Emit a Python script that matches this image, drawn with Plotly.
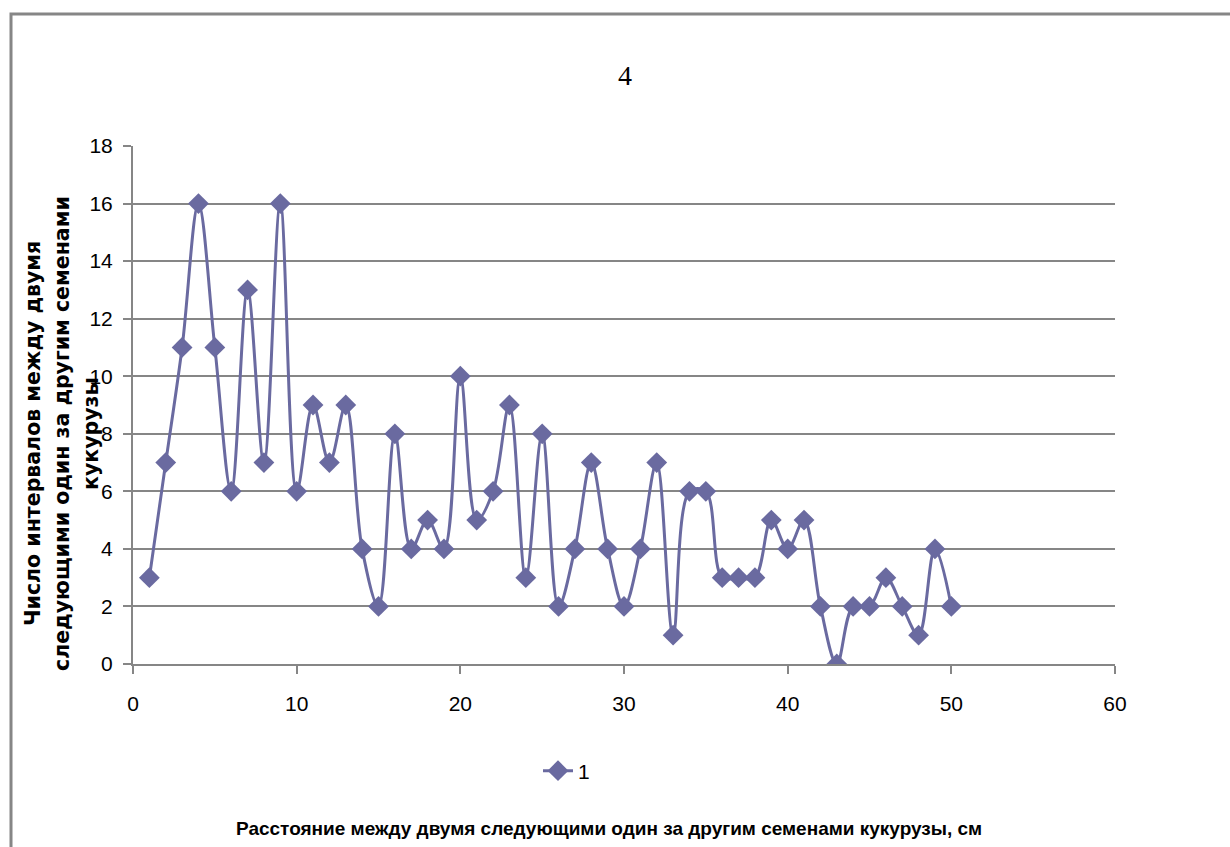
import plotly.graph_objects as go

x_vals = list(range(1, 51))
y_vals = [3, 7, 11, 16, 11, 6, 13, 7, 16, 6,
          9, 7, 9, 4, 2, 8, 4, 5, 4, 10,
          5, 6, 9, 3, 8, 2, 4, 7, 4, 2,
          4, 7, 1, 6, 6, 3, 3, 3, 5, 4,
          5, 2, 0, 2, 2, 3, 2, 1, 4, 2]
series_name = "1"
chart_title = "4"
x_title = "Расстояние между двумя следующими один за другим семенами кукурузы, см"
y_title_lines = ["Число интервалов между двумя",
                 "следующими один за другим семенами",
                 "кукурузы"]

color = "#6A6AA0"
grid = "#868686"

fig = go.Figure()
fig.add_trace(go.Scatter(
    x=x_vals, y=y_vals, name=series_name, mode="lines+markers",
    line=dict(color=color, width=3, shape="spline", smoothing=1.0),
    marker=dict(symbol="diamond", size=16, color=color),
))

L, R, T, B = 133, 115, 146, 183
W, H = 1230, 847
pw, ph = W - L - R, H - T - B

fig.update_layout(
    width=W, height=H,
    margin=dict(l=L, r=R, t=T, b=B),
    paper_bgcolor="white", plot_bgcolor="white",
    font=dict(family="Liberation Sans", size=18, color="black"),
    showlegend=True,
    legend=dict(orientation="h", x=(538 - L) / pw, y=(H - B - 771) / ph,
                xanchor="left", yanchor="middle",
                font=dict(size=21, family="Liberation Sans"),
                bgcolor="rgba(0,0,0,0)"),
    xaxis=dict(range=[0, 60], tickvals=[0, 10, 20, 30, 40, 50, 60],
               showgrid=False, zeroline=False, showline=True,
               linecolor=grid, linewidth=2, ticks="outside", ticklen=8,
               tickcolor=grid, tickwidth=2, ticklabelstandoff=12,
               tickfont=dict(size=21, family="Liberation Sans")),
    yaxis=dict(range=[0, 18], tickvals=list(range(0, 19, 2)),
               showgrid=True, gridcolor=grid, gridwidth=2, zeroline=False,
               showline=True, linecolor=grid, linewidth=2,
               ticks="outside", ticklen=8, tickcolor=grid, tickwidth=2,
               ticklabelstandoff=6,
               tickfont=dict(size=21, family="Liberation Sans")),
    annotations=[
        dict(text=chart_title, x=(625 - L) / pw, y=(H - B - 58) / ph,
             xref="paper", yref="paper", showarrow=False,
             font=dict(family="Liberation Serif", size=28)),
        dict(text="<b>" + x_title + "</b>", x=(609 - L) / pw, y=(H - B - 828) / ph,
             xref="paper", yref="paper", showarrow=False,
             font=dict(family="Liberation Sans", size=19, color="black"),
             xanchor="center", yanchor="middle"),
    ] + [
        dict(text="<b>" + t + "</b>", x=(xc - L) / pw, y=(H - B - 434) / ph,
             xref="paper", yref="paper", showarrow=False, textangle=-90,
             font=dict(family="DejaVu Sans", size=20.5, color="black"),
             xanchor="center", yanchor="middle")
        for t, xc in zip(y_title_lines, [33, 62, 91])
    ],
    shapes=[dict(type="rect", xref="paper", yref="paper",
                 x0=(11 - L) / pw, x1=(1300 - L) / pw,
                 y0=(H - B - 900) / ph, y1=(H - B - 14) / ph,
                 line=dict(color=grid, width=3), layer="below")],
)

fig.write_html("out.html")
